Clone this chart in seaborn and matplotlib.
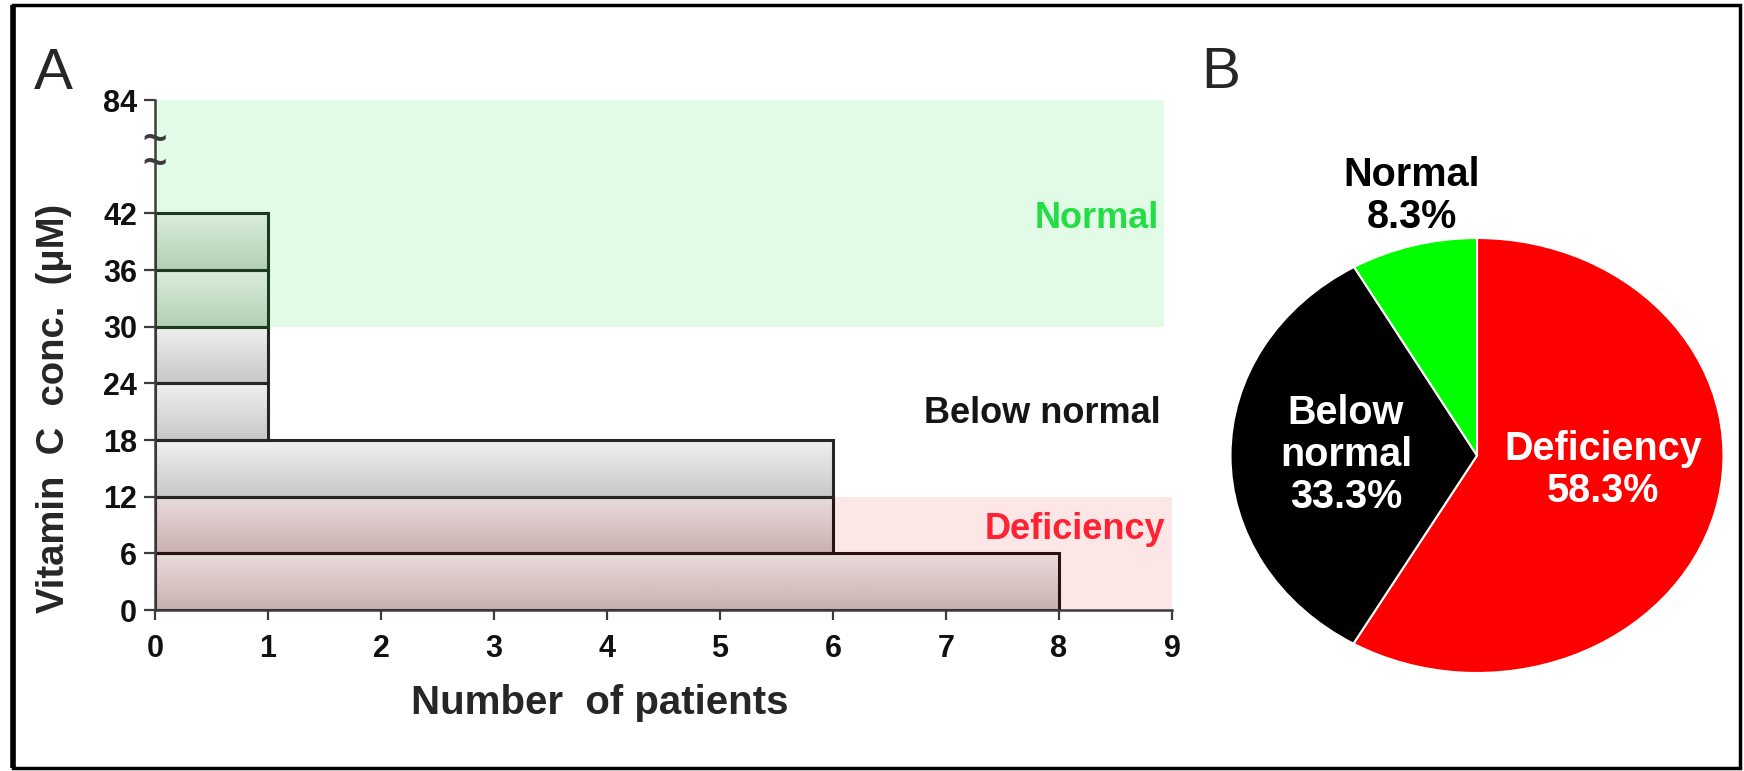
import numpy as np
import pandas as pd
import matplotlib
matplotlib.use("Agg")
import matplotlib.pyplot as plt
from matplotlib.patches import Rectangle
import seaborn as sns

# ---------------- data ----------------
bin_lower = [0, 6, 12, 18, 24, 30, 36]          # µM, lower edge of each 6 µM bin
bin_width = 6
patients = [8, 6, 6, 1, 1, 1, 1]                # number of patients per bin
bin_zone = ["Deficiency", "Deficiency", "Below normal", "Below normal",
            "Below normal", "Normal", "Normal"]
x_ticks = [0, 1, 2, 3, 4, 5, 6, 7, 8, 9]
y_tick_values = [0, 6, 12, 18, 24, 30, 36, 42, 84]
deficiency_max = 12
normal_min = 30

pie_labels = ["Deficiency", "Below\nnormal", "Normal"]
pie_pct = [58.3, 33.3, 8.3]
pie_colors = ["#ff0000", "#000000", "#00ff00"]

# ---------------- style ----------------
sns.set_style("ticks")
plt.rcParams["font.family"] = ["Liberation Sans", "DejaVu Sans"]

W, H = 1744, 771
fig = plt.figure(figsize=(W / 100, H / 100), dpi=100)

# axis break: 84 is drawn two bins above 42
y_top_pos = 54
y_tick_pos = [v if v <= 42 else y_top_pos for v in y_tick_values]

ax = fig.add_axes([155 / W, 1 - 610 / H, 1017 / W, 510 / H])

df = pd.DataFrame({
    "center": [b + bin_width / 2 for b in bin_lower],
    "patients": patients,
    "zone": bin_zone,
})
zone_fill = {"Deficiency": ("#ecdcdc", "#c9b0b0"),
             "Below normal": ("#f0f0f0", "#c8c8c8"),
             "Normal": ("#dbeedb", "#b3cfb3")}
zone_edge = {"Deficiency": "#2a1212", "Below normal": "#262626", "Normal": "#1b3a1e"}
palette = {k: v[1] for k, v in zone_fill.items()}

sns.barplot(data=df, x="patients", y="center", hue="zone", palette=palette,
            orient="h", native_scale=True, dodge=False, width=1.0,
            legend=False, ax=ax, edgecolor="#222222", linewidth=2.2, zorder=2)

# gradient fill inside each bar
bars = [p for c in ax.containers for p in c]
for p in bars:
    if p.get_width() <= 0:
        continue
    yc = p.get_y() + p.get_height() / 2
    z = df.loc[(df["center"] - yc).abs().idxmin(), "zone"]
    top, bot = [np.array(matplotlib.colors.to_rgb(c)) for c in zone_fill[z]]
    t = np.linspace(0, 1, 64)[:, None, None]
    img = top * (1 - t) + bot * t
    x0, y0 = p.get_x(), p.get_y()
    im = ax.imshow(img, extent=[x0, x0 + p.get_width(), y0, y0 + p.get_height()],
                   aspect="auto", origin="upper", zorder=1.5, interpolation="bilinear")
    im.set_clip_path(p)
    p.set_facecolor("none")
    p.set_edgecolor(zone_edge[z])
    p.set_zorder(2)

# shaded zones (behind bars)
ax.axhspan(normal_min, y_top_pos, xmin=0, xmax=8.93 / 9, color="#e1fbe6", lw=0, zorder=0)
ax.axhspan(0, deficiency_max, xmin=0, xmax=1, color="#fde6e6", lw=0, zorder=0)

ax.set_xlim(0, 9)
ax.set_ylim(0, y_top_pos)
ax.set_aspect("auto")
ax.set_xticks(x_ticks)
ax.set_xticklabels([str(v) for v in x_ticks])
ax.set_yticks(y_tick_pos)
ax.set_yticklabels([str(v) for v in y_tick_values])
sns.despine(ax=ax)
for s in ["left", "bottom"]:
    ax.spines[s].set_color("#3c3c3c")
    ax.spines[s].set_linewidth(1.8)
ax.tick_params(axis="both", colors="#3c3c3c", width=1.6, labelsize=22,
               labelcolor="#111111")
ax.tick_params(axis="x", length=7, pad=10)
ax.tick_params(axis="y", length=8, pad=5)
for lab in ax.get_xticklabels() + ax.get_yticklabels():
    lab.set_fontweight("bold")

# axis break mark (two stacked tildes)
ax.text(0, 48.4, "~\n~", ha="center", va="center", fontsize=30, fontweight="bold",
        color="#3c3c3c", clip_on=False, zorder=5, linespacing=0.5)

ax.set_xlabel("Number  of patients", fontsize=29, fontweight="bold")
ax.xaxis.label.set_va("center")
ax.xaxis.set_label_coords((600 - 155) / 1017, (610 - 703) / 510)
ax.set_ylabel("Vitamin  C  conc.  (μM)", fontsize=27.5, fontweight="bold")
ax.yaxis.label.set_va("center")
ax.yaxis.set_label_coords((54 - 155) / 1017, (610 - 408) / 510)

ax.text(8.88, 41.4, "Normal", ha="right", va="center", fontsize=26,
        fontweight="bold", color="#22dd44")
ax.text(8.9, 20.8, "Below normal", ha="right", va="center", fontsize=26,
        fontweight="bold", color="#151515")
ax.text(8.94, 8.5, "Deficiency", ha="right", va="center", fontsize=26,
        fontweight="bold", color="#ff2233")

# ---------------- pie ----------------
cx, cy, rx, ry = 1477, 455.5, 246.5, 217.5
pax = fig.add_axes([(cx - rx) / W, 1 - (cy + ry) / H, 2 * rx / W, 2 * ry / H])
pax.pie(pie_pct, colors=pie_colors, startangle=90, counterclock=False,
        wedgeprops=dict(edgecolor="white", linewidth=1.5))
pax.set_aspect("auto")
pax.set_xlim(-1, 1)
pax.set_ylim(-1, 1)
pax.axis("off")

def px2d(x, y):
    return (x - cx) / rx, (cy - y) / ry

label_pos = [px2d(1603, 470), px2d(1346, 455), px2d(1412, 196)]
label_col = ["white", "white", "black"]
for lab, pct, (lx, ly), c in zip(pie_labels, pie_pct, label_pos, label_col):
    pax.text(lx, ly, f"{lab}\n{pct:.1f}%", ha="center", va="center",
             fontsize=28.5, fontweight="bold", color=c, linespacing=1.15,
             clip_on=False)

# panel letters
fig.text(53 / W, 1 - 74 / H, "A", fontsize=42, ha="center", va="center")
fig.text(1221 / W, 1 - 73 / H, "B", fontsize=42, ha="center", va="center")

# outer frame
fig.patches.append(Rectangle((13 / W, 1 - 768 / H), (1740 - 13) / W, (768 - 5) / H,
                             transform=fig.transFigure, fill=False,
                             edgecolor="black", linewidth=2.5))
fig.patches.append(Rectangle((13 / W, 1 - 768 / H), 0, (768 - 5) / H,
                             transform=fig.transFigure, fill=False,
                             edgecolor="black", linewidth=4))

fig.savefig("out.png", dpi=100)
